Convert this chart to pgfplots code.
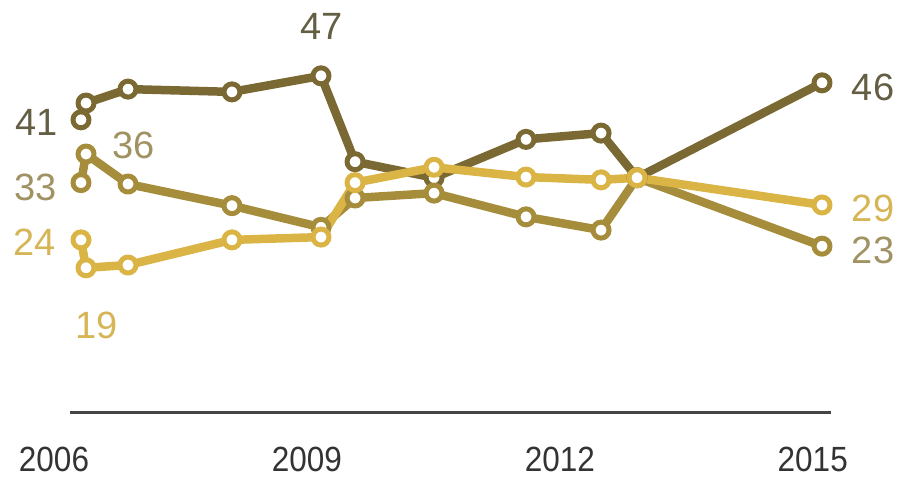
\documentclass[border=0pt]{standalone}
\usepackage{fontspec}
\setmainfont{Liberation Sans}
\newfontfamily\tickfont{Liberation Sans}[FakeStretch=0.9]
\usepackage{pgfplots}
\pgfplotsset{compat=1.18}
\definecolor{cdark}{HTML}{7A6933}
\definecolor{cmed}{HTML}{A68D3C}
\definecolor{clight}{HTML}{DAB445}
\definecolor{tdark}{HTML}{645E45}
\definecolor{tmed}{HTML}{A09262}
\definecolor{tlight}{HTML}{D5B556}
\definecolor{tick}{HTML}{333333}
\definecolor{base}{HTML}{454545}
\begin{document}
\begin{tikzpicture}
\path[use as bounding box] (0pt,0pt) rectangle (899pt,478pt);
\begin{axis}[at={(54pt,65.7pt)}, anchor=south west, scale only axis,
  width=800.9pt, height=356pt,
  xmin=2006, xmax=2015.5, ymin=-1, ymax=50, clip=false,
  axis y line=none, axis x line=bottom,
  x axis line style={draw=none,-},
  xtick={2006,2009,2012,2015}, xticklabels={2006,2009,2012,2015},
  major tick length=0pt,
  xticklabel style={anchor=center, yshift=-47pt, inner sep=0pt,
    font=\tickfont\fontsize{35}{35}\selectfont, text=tick},
  every axis plot/.append style={line width=8.5pt, line join=round, line cap=round,
    mark=*, mark size=8pt, mark options={fill=white, line width=5pt}}]
\draw[base, line width=3pt] (axis cs:2006.19,-1) -- (axis cs:2015.217,-1);
\addplot[color=cdark] coordinates {
(2006.320,40.9) (2006.380,43.3) (2006.878,45.3) (2008.111,44.9) (2009.167,47.2)
(2009.571,34.9) (2010.508,32.6) (2011.599,38.1) (2012.489,39.0) (2012.916,32.6)
(2015.110,46.2)};
\addplot[color=cmed] coordinates {
(2006.320,31.9) (2006.380,36.0) (2006.878,31.7) (2008.111,28.6) (2009.167,25.5)
(2009.571,29.7) (2010.508,30.4) (2011.599,27.0) (2012.489,25.1) (2012.916,32.6)
(2015.110,22.8)};
\addplot[color=clight] coordinates {
(2006.320,23.7) (2006.380,19.7) (2006.878,20.1) (2008.111,23.7) (2009.167,24.1)
(2009.571,31.9) (2010.508,34.1) (2011.599,32.7) (2012.489,32.3) (2012.916,32.6)
(2015.110,28.7)};
\end{axis}
\begin{scope}[every node/.style={font=\fontsize{38}{38}\selectfont, inner sep=0pt, anchor=center}]
\node[text=tdark] at (322pt,452pt) {47};
\node[text=tdark] at (37pt,356pt) {41};
\node[text=tmed] at (134pt,333pt) {36};
\node[text=tmed] at (36pt,291pt) {33};
\node[text=tlight] at (35pt,236pt) {24};
\node[text=tlight] at (97pt,153pt) {19};
\node[text=tdark] at (873pt,391pt) {46};
\node[text=tlight] at (873pt,270pt) {29};
\node[text=tmed] at (873pt,228pt) {23};
\end{scope}
\end{tikzpicture}
\end{document}
